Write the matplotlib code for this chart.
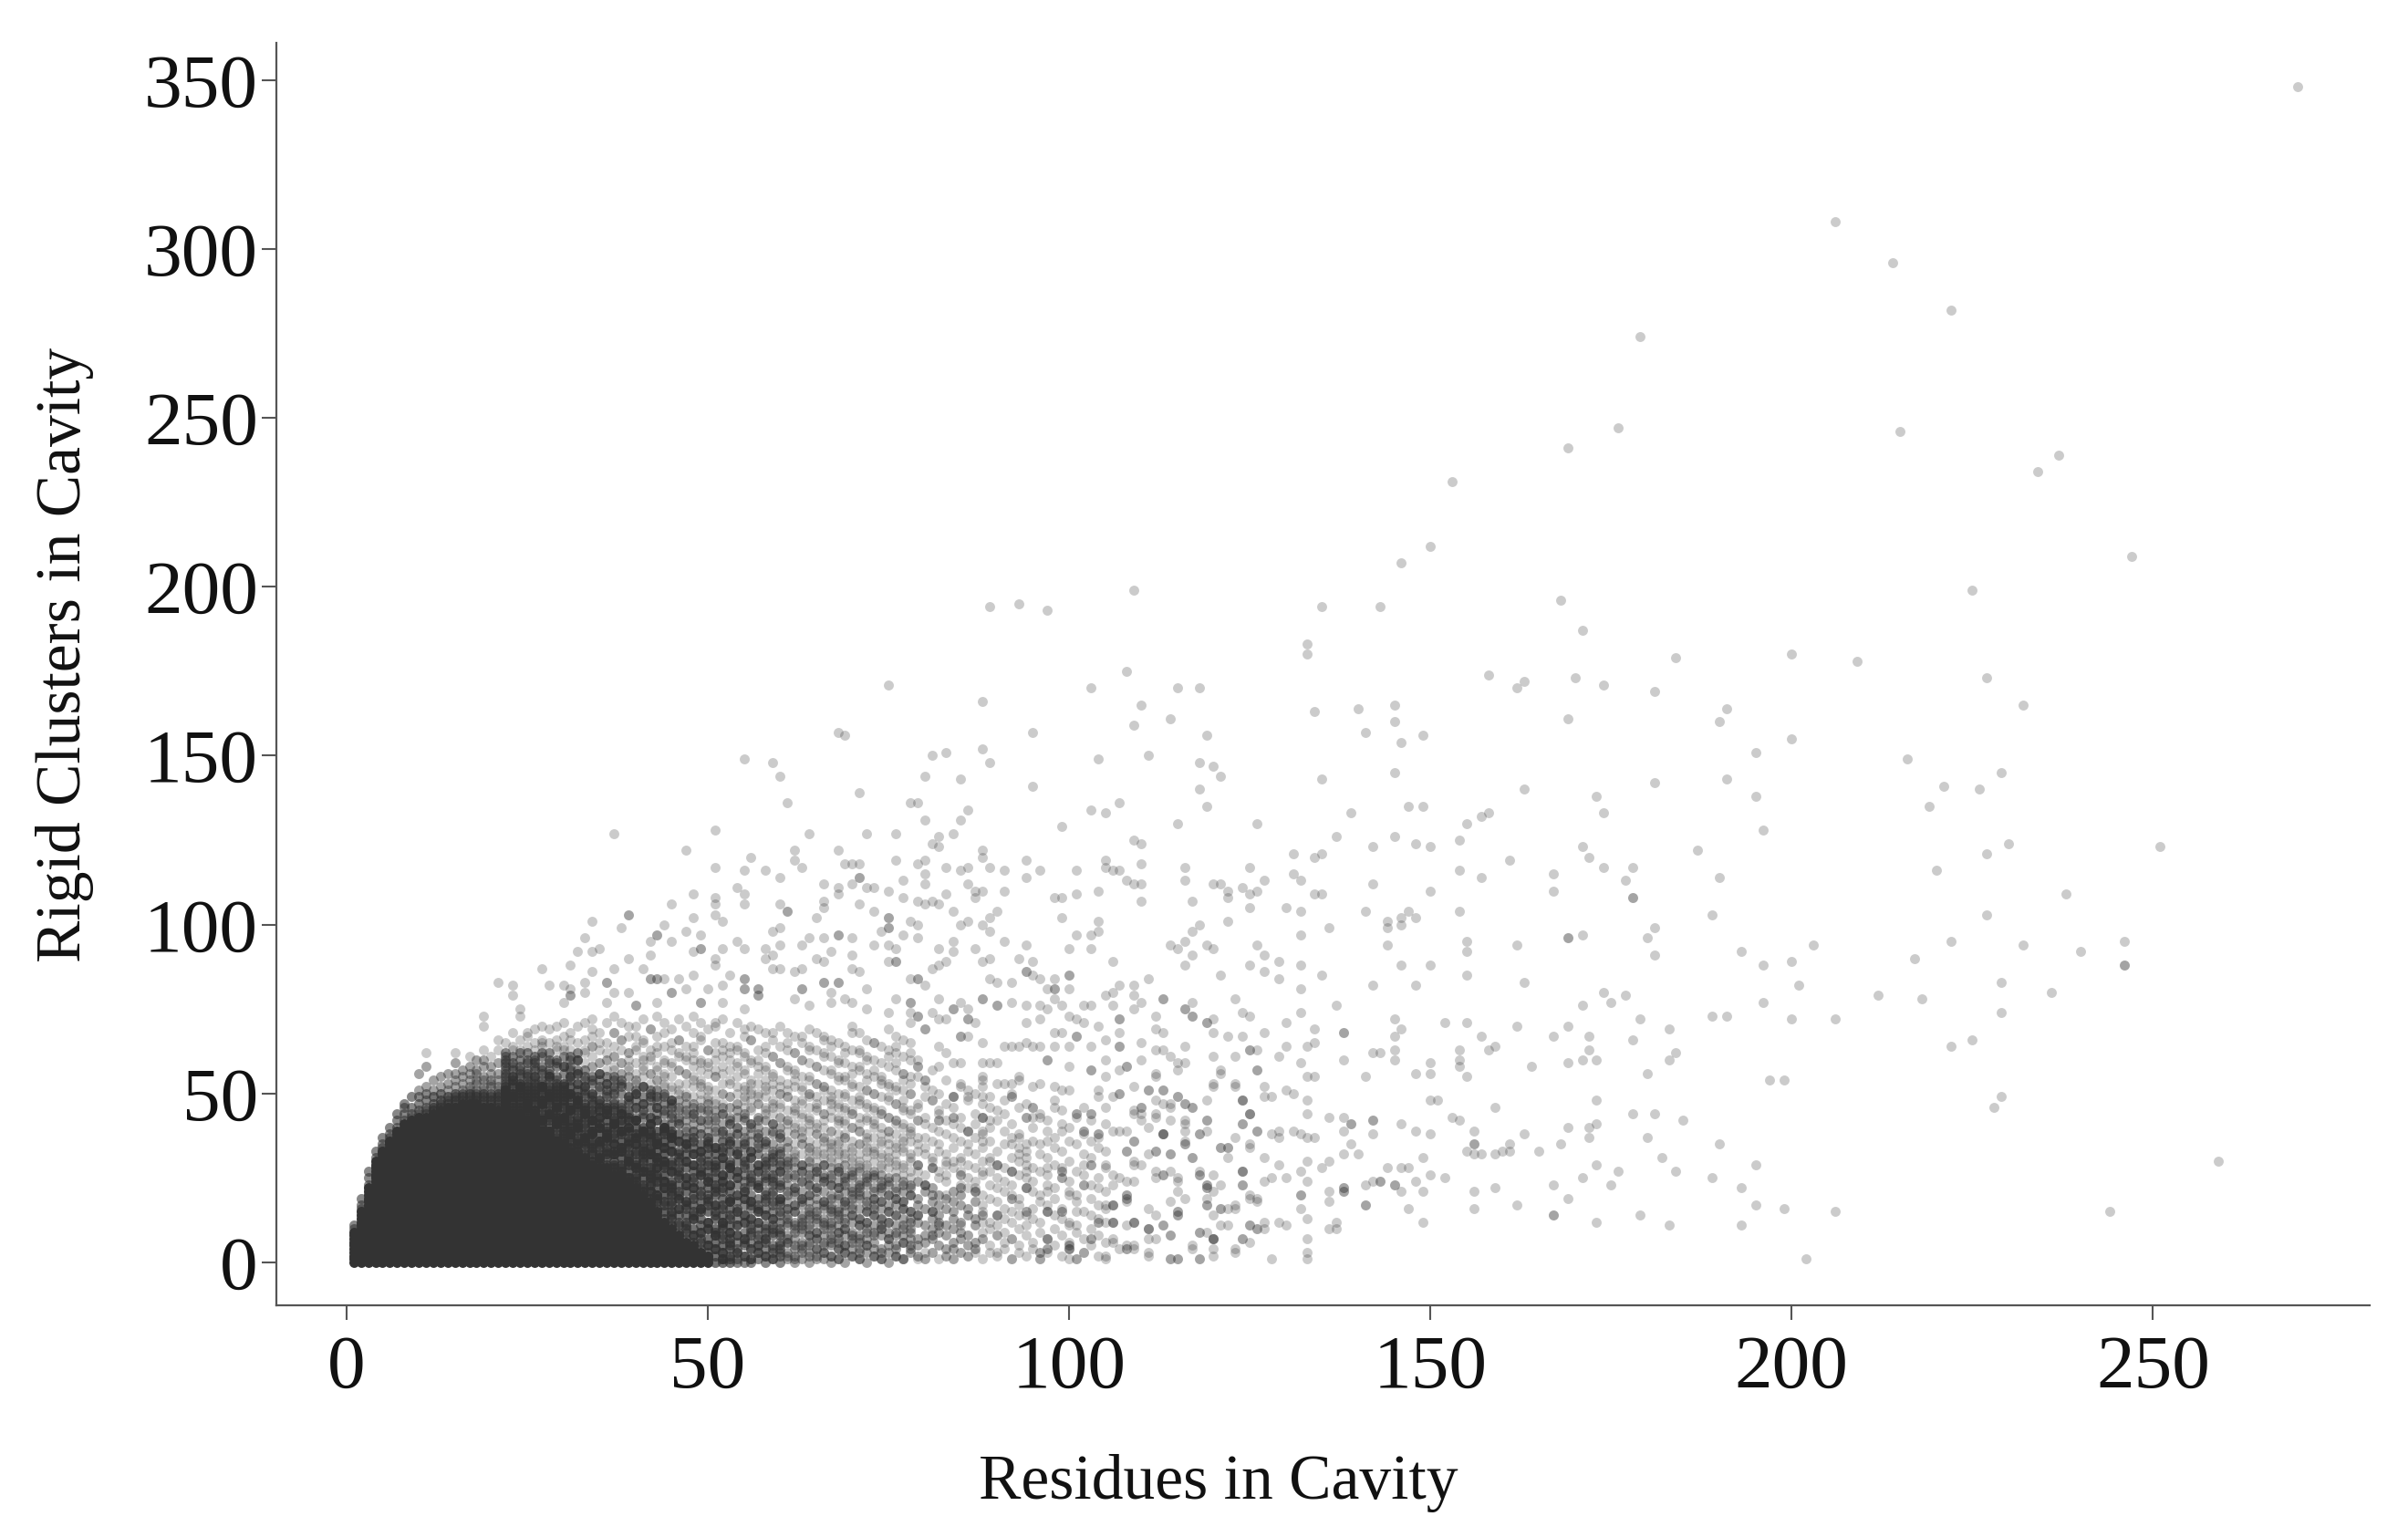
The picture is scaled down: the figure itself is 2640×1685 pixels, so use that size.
import numpy as np
import matplotlib
matplotlib.use("Agg")
import matplotlib.pyplot as plt

x_ticks = [0, 50, 100, 150, 200, 250]
y_ticks = [0, 50, 100, 150, 200, 250, 300, 350]
x_title = "Residues in Cavity"
y_title = "Rigid Clusters in Cavity"

# top of the fully saturated mass, for residues = 1, 2, 3 ...
solid_top = [9,15,22,30,33,36,39,41,42,43,43,44,45,46,46,47,47,47,46,46,45,44,43,42,40,39,38,36,35,33,
             32,31,30,29,28,27,26,25,24,22,20,18,15,12,10,8,6,5,3,2]

# values read column by column above the saturated mass (residues = 1, 2, 3 ...)
columns = [
[10,11],[16,17,19],[23,25,27],[31,33],[34,35,37],[37,38,40],[40,42,44],[42,44,46,47],[43,44,46,49],
[44,45,47,49,51,56],[44,45,46,48,50,52,58,62],[45,46,47,49,51,54],[46,47,48,50,52,55],[47,48,49,51,53,56],
[47,48,49,50,52,54,56,59,62],[48,49,50,51,53,55,57],[48,49,50,51,52,54,56,58,61],[48,49,50,51,53,54,56,57,60],
[47,48,49,50,51,52,54,55,58,60,63,70,73],[47,48,49,50,52,53,54,56,58,61],[46,47,48,49,50,51,52,54,56,59,63,66],
[45,46,47,48,49,50,51,52,53,54,56,57,58,60,62,65],[44,45,46,47,48,49,50,52,53,54,55,57,59,61,64,68],
[43,44,45,46,47,49,50,51,52,53,55,56,58,60,63,66,73,75],[41,42,43,44,45,46,47,48,50,51,52,54,55,57,59,62,64,68],
[40,41,42,43,44,45,47,48,49,50,52,53,55,57,58,60,63,65,69],[39,40,41,42,43,44,46,47,48,50,51,52,54,56,58,61,64,66,70],
[37,38,39,40,42,43,44,45,47,48,49,51,52,54,55,57,59,62,65,69],[36,37,38,40,41,42,43,45,46,47,49,50,52,53,55,58,60,63,66,70],
[34,35,36,38,39,40,41,43,44,46,47,48,50,51,53,56,58,61,64,67,71],[33,34,36,37,38,40,41,42,44,45,47,49,50,52,54,55,58,60,63,68],
[32,33,35,36,37,39,40,42,43,45,46,48,49,51,53,56,57,60,62,65,70],[31,32,34,35,37,38,40,41,43,44,46,47,49,50,52,54,57,59,62,66,71],
[30,32,33,35,36,38,39,41,42,44,45,47,48,50,53,55,58,61,64,67,72],[29,31,32,34,35,36,38,40,41,43,45,46,48,51,52,54,56,59,63,68],
[28,29,31,32,34,36,37,39,40,42,44,45,47,49,50,53,55,57,60,65,71],[27,28,30,32,33,35,37,38,40,41,43,45,46,48,51,52,55,58,61,64,68,73],
[26,28,29,31,33,34,36,38,39,41,42,44,46,47,50,53,54,56,59,63,66,71],[25,27,29,30,32,34,35,37,39,40,42,44,45,47,49,52,55,57,60,62,67],
[23,25,26,28,30,32,33,35,37,38,40,42,43,46,48,50,51,54,56,59,64,70],[21,23,25,27,28,30,32,33,35,37,39,40,43,45,47,49,52,55,58,61,66,72],
[19,21,23,25,27,28,30,32,34,36,37,39,41,43,46,48,50,53,56,60,63,69],[16,18,20,22,24,26,28,30,31,33,35,37,39,42,44,46,49,51,54,57,62,67,73],
[13,15,18,20,22,24,26,28,30,32,34,36,38,40,41,44,47,49,52,56,59,64,71],[11,13,15,18,20,22,24,27,29,30,33,35,37,39,41,44,46,48,51,55,58,63,69],
[9,11,14,16,19,21,23,25,27,30,32,33,36,38,41,43,45,48,50,53,57,61,66,72],[7,9,11,14,16,18,21,23,25,28,30,32,35,37,39,42,44,47,49,53,56,60,64,70],
[6,8,10,13,15,17,20,22,25,27,29,32,34,36,39,41,44,46,49,52,55,58,62,68,73],[4,6,9,11,13,16,18,21,23,26,28,30,33,35,38,40,42,45,48,50,54,57,60,66,71],
[3,5,7,10,12,15,17,20,22,24,27,29,32,34,37,39,42,44,47,49,52,56,59,63,69],
[0,2,4,6,8,10,13,15,17,20,22,25,27,30,32,34,37,39,42,45,48,51,55,60,65,70],[0,1,3,5,8,10,12,14,17,19,22,24,26,29,31,34,36,39,41,44,47,50,53,58,63,72],
[0,2,4,7,9,11,14,16,18,21,23,26,28,30,33,36,38,41,43,46,49,53,57,62,68],[0,1,3,6,8,11,13,15,18,20,23,25,27,30,32,35,38,40,43,47,50,55,59,64,71],
[0,2,5,7,9,12,14,17,19,21,24,26,29,31,34,37,39,42,46,49,52,56,61,67],[0,1,4,6,8,11,13,16,18,20,23,25,28,31,33,36,38,41,45,48,51,54,60,66,70],
[1,3,5,7,10,12,15,17,19,22,24,27,29,32,35,37,40,43,47,50,53,58,63,69],[0,2,4,7,9,11,14,16,18,21,24,26,29,31,34,36,39,42,46,49,52,57,62,68],
[1,3,5,8,10,13,15,18,20,23,25,28,30,33,35,38,41,44,47,51,56,61,66],[0,2,4,6,9,12,14,17,19,22,24,27,30,32,34,37,40,43,46,50,54,59,64,70],
[1,3,6,8,11,13,16,18,21,23,26,29,31,34,36,39,42,45,49,53,58,63,68],[0,2,5,7,10,12,15,17,20,22,25,28,30,33,35,38,41,44,48,52,57,62,67],
[1,4,6,9,11,14,17,19,21,24,27,29,32,35,37,40,43,47,51,55,60,65],[0,3,5,8,10,13,15,18,20,23,26,28,31,34,36,39,42,46,50,54,59,64,69],
[2,4,7,9,12,14,17,19,22,25,27,30,33,35,38,41,45,49,53,58,63,68],[1,3,6,8,11,13,16,18,21,24,26,29,32,34,37,40,44,48,52,57,62,67],
[0,2,5,7,10,12,15,17,20,23,25,28,31,33,36,39,43,47,51,56,61,66],[1,4,6,9,11,14,16,19,22,24,27,30,32,35,38,42,46,50,55,60,65],
[0,3,5,8,10,13,15,18,21,23,26,29,31,34,37,41,45,49,54,59,64],[2,4,7,9,12,14,17,20,22,25,28,30,33,36,40,44,48,53,58,63,70],
[1,3,6,8,11,13,16,19,21,24,27,29,32,35,39,43,47,52,57,62,68],[0,5,7,10,12,15,18,20,23,26,28,31,34,38,42,46,51,56,61,66],
[2,4,9,11,14,17,19,22,25,27,30,33,37,41,45,50,55,60,65],[1,3,8,10,13,16,18,21,24,26,29,32,36,40,44,49,54,59,64],
[0,5,7,12,15,17,20,23,28,31,35,39,43,48,53,58,63,69],[2,4,9,11,14,19,22,25,30,34,38,42,47,52,57,62,67],
[1,6,8,13,16,18,21,24,29,33,37,41,46,51,56,61,66],[3,5,10,12,15,20,23,27,32,36,40,45,50,55,60,65,71],
]
# further column readings, residues = 22, 23, 24 ... 105
extra_first = 22
extra_columns = [
[46,47,50,51,55,59,61],[44,49,50,54,55,58,63],[43,44,48,52,53,57,62],[42,46,47,49,53,56,60,67],[41,44,45,51,54,55,59,61],
[39,42,47,48,52,53,57,62,65],[38,39,44,49,50,55,56,60],[36,41,43,46,48,51,54,59,64],[35,37,42,43,49,52,53,58,63],[34,38,39,45,46,50,55,57,61,66],
[33,35,40,41,47,48,53,56,60],[31,36,37,44,45,51,52,55,63],[30,34,38,39,42,49,50,54,58,64,69],[30,31,36,40,43,47,48,56,59,65],[28,33,37,38,44,46,51,53,60,62],
[29,32,35,41,42,47,50,54,57,61,68],[26,27,33,34,39,44,45,52,56,59,66],[25,30,31,36,40,43,48,49,55,58,62,70],[24,28,29,35,37,42,46,50,53,54,63,67],[22,27,31,34,38,39,44,47,52,57,60,65],
[21,24,26,32,33,38,41,43,49,51,56,61,69],[19,20,25,28,31,35,36,42,46,48,54,58,64],[17,22,24,29,30,34,39,40,45,50,53,55,60,68],[14,17,21,23,27,33,37,38,43,47,48,52,59,65],[12,16,19,20,26,28,31,36,41,42,46,51,57,62,66],
[10,12,17,18,23,25,30,34,35,40,45,49,50,56,61],[8,13,14,19,22,24,29,32,37,39,43,44,47,54,60,64],[7,9,15,16,20,26,27,31,33,38,42,46,52,53,59,67],[5,10,12,18,19,24,25,30,35,36,41,45,48,51,58,63],[4,8,9,14,17,21,23,28,29,34,40,43,47,55,57,62,71],
[1,3,7,11,12,16,21,24,26,31,33,38,39,44,46,50,56,61,65],[1,5,6,9,13,18,19,23,28,29,35,37,41,42,49,54,60,64],[3,4,8,11,15,16,20,25,27,32,33,38,40,45,47,52,58,63],[2,6,7,12,14,19,21,22,28,30,35,36,43,44,48,51,57,62,69],[1,4,9,10,13,17,18,24,26,31,33,40,41,46,50,53,59,66],
[3,5,8,12,15,16,22,23,27,29,34,37,38,42,47,49,56,60],[2,6,7,10,14,19,20,25,28,30,35,36,44,45,51,54,58,64],[1,4,9,11,13,17,21,24,26,31,32,39,41,46,48,53,55,61,68],[3,5,8,10,15,18,19,23,27,29,33,37,38,43,47,50,52,59],[2,6,7,12,14,16,20,25,28,30,34,36,41,42,49,51,57,65],
[1,4,9,11,15,17,21,22,26,31,32,38,40,45,46,54,56,62],[3,5,10,12,13,18,19,24,27,29,35,37,39,44,48,52,60,67],[2,6,8,11,14,16,20,23,25,30,33,34,41,43,49,50,55,63],[1,4,7,9,13,15,21,22,27,28,32,38,40,46,47,53,58],[3,5,10,12,17,18,24,25,29,31,36,37,42,44,51,52,61,66],
[2,6,8,11,14,16,19,23,26,30,34,35,39,45,48,49,57,64],[1,4,7,9,13,15,20,22,27,28,33,36,41,43,47,54,59],[3,5,10,12,17,18,24,25,29,32,37,38,42,46,50,55,62],[2,6,8,14,16,19,21,26,27,31,34,40,44,45,52,56,68],[1,4,7,11,13,20,22,23,28,30,35,39,41,48,49,58,63],
[3,5,9,12,15,17,24,25,29,33,36,37,43,47,51,54,60],[2,6,8,14,16,19,21,26,27,32,34,40,42,46,50,57,65],[1,4,10,11,13,18,22,23,28,31,35,38,44,45,53,55],[3,7,9,12,15,20,24,25,30,33,37,39,43,49,52,61],[2,5,8,14,17,19,21,27,29,32,35,41,42,47,51,59,64],
[1,6,10,11,16,18,23,26,28,34,36,40,45,48,54,56],[4,7,9,13,15,20,22,25,30,31,38,39,44,50,53,62],[2,5,12,14,17,19,24,27,29,33,35,42,46,47,55,60],[1,6,8,11,16,21,23,26,32,34,37,41,43,49,52],[3,7,10,13,15,18,22,28,30,31,36,40,48,51,57],
[5,9,12,14,17,20,25,27,33,35,39,44,45,50,58],[2,4,8,11,16,19,24,26,29,32,38,42,47,54],[1,6,10,13,15,18,21,28,30,34,37,41,46,49],[3,7,9,12,17,20,23,27,31,36,40,43,52,59],[2,5,8,14,16,22,25,29,33,35,39,48,51],
[4,6,11,13,18,21,24,28,32,37,41,44,50],[1,7,9,15,17,20,26,30,34,38,43,47,55],[3,5,10,12,19,23,27,31,36,40,46,49],[2,8,11,14,18,22,25,29,33,42,45,53],[4,6,9,13,16,21,24,28,35,39,44,48],
[1,7,12,15,20,23,27,31,37,41,50],[3,5,10,17,19,26,30,34,38,46],[2,8,11,14,22,25,29,33,43,47],[4,6,13,16,21,24,28,36,40,52],[1,9,12,18,20,27,32,35,44],
[3,7,15,17,23,26,31,39,42],[5,10,14,19,22,29,34,37,48],[2,8,13,16,25,28,33,41,45],[4,6,12,21,24,30,36,40],[1,9,11,18,20,27,35,43],
[3,7,15,23,26,32,38,46],[5,10,14,19,29,31,42],[2,8,17,22,25,34,37],[6,12,16,21,28,33,41],
]
# shading: stack height of the column values and the level up to which it applies
stack_by_residue = [3]*11 + [4]*10 + [5]*24 + [4]*8 + [3]*7 + [2]*27 + [1]*18
shade_level = [50]*21 + [52]*11 + [48,47,46,46,45,44,43,42,42,41,41,40,40,39,38,38,37,37,36,36,
               36,35,35,34,34,33,32,32,31,30,30,30,29,29,28,28,28,27,27,26,26,26,25,25,25,24,24,24,
               24,23,23,22,22,21,21,20,20,19,19,18,18,17,17,16,16,15,15,15,14,14,14,14,14]

# resolved single points
points = [(270,348),(206,308),(214,296),(222,282),(179,274),(176,247),(169,241),(215,246),(234,234),(237,239),(247,209),(225,199),(168,196),(171,187),(184,179),(200,180),(209,178),(170,173),(174,171),(181,169),(227,173),(232,165),(169,161),(191,164),(190,160),(195,151),(200,155),(216,149),(229,145),(221,141),(226,140),(219,135),(173,138),(174,133),(181,142),(191,143),(195,138),(196,128),(251,123),(227,121),(230,124),(220,116),(171,123),(172,120),(174,117),(178,117),(177,113),(187,122),(190,114),(167,115),(167,110),(189,103),(227,103),(238,109),(171,97),(180,96),(181,99),(181,91),(193,92),(196,88),(200,89),(203,94),(201,82),(217,90),(222,95),(232,94),(240,92),(246,95),(229,83),(236,80),(212,79),(218,78),(229,74),(196,77),(200,72),(206,72),(189,73),(191,73),(174,80),(175,77),(177,79),(171,76),(179,72),(169,70),(172,67),(172,63),(167,67),(183,69),(178,66),(183,60),(184,62),(180,56),(169,59),(171,60),(173,60),(222,64),(225,66),(229,49),(228,46),(197,54),(199,54),(173,48),(178,44),(181,44),(185,42),(169,40),(172,40),(173,41),(172,37),(180,37),(168,35),(190,35),(182,31),(173,29),(195,29),(176,27),(184,27),(171,25),(189,25),(167,23),(175,23),(193,22),(169,19),(195,17),(199,16),(206,15),(167,14),(179,14),(173,12),(183,11),(193,11),(202,1),(259,30),(244,15),
(89,194),(93,195),(97,193),(109,199),(135,194),(133,183),(133,180),(143,194),(146,207),(150,212),(108,175),(88,166),(103,170),(115,170),(118,170),(110,165),(109,159),(114,161),(95,157),(119,156),(134,163),(140,164),(145,165),(145,160),(141,157),(146,154),(149,156),(158,174),(162,170),(163,172),(153,231),(75,171),(68,157),(69,156),(55,149),(59,148),(60,144),(61,136),(71,139),(78,136),(81,150),
(83,151),(88,152),(89,148),(104,149),(111,150),(118,148),(120,147),(121,144),(80,144),(85,143),(95,141),(118,140),(119,135),(135,143),(145,145),(163,140),(79,136),(80,131),(85,131),(86,134),(84,127),(82,126),(81,124),(82,123),(99,129),(103,134),(105,133),(107,136),(115,130),(126,130),(139,133),(147,135),(149,135),(155,130),(157,132),(158,133),(137,126),(154,125),(145,126),(142,123),(148,124),(150,123),(109,125),(110,124),(131,121),(135,121),(134,120),
(88,122),(88,120),(79,118),(80,119),(83,117),(85,116),(86,117),(89,117),(91,116),(94,119),(96,116),(101,116),(105,119),(105,117),(106,116),(107,116),(110,118),(116,117),(125,117),(161,119),(154,116),(157,114),(80,115),(80,112),(86,112),(94,114),(108,113),(109,112),(110,112),(116,113),(120,112),(121,112),(127,113),(124,111),(131,115),(132,113),(142,112),(150,110),(87,110),(88,110),(91,110),(98,108),(99,108),(101,109),(104,110),(110,107),(117,107),(122,110),(122,108),(125,109),(126,110),(134,109),(135,109),
(79,107),(80,106),(81,107),(82,106),(83,109),(87,108),(84,104),(90,104),(89,102),(99,102),(85,100),(86,101),(88,100),(79,100),(104,101),(104,98),(103,97),(101,97),(118,100),(117,98),(122,101),(125,105),(130,105),(132,104),(141,104),(147,104),(146,102),(148,102),(144,101),(154,104),(144,99),(146,100),(132,97),(136,99),(79,96),(89,98),(91,95),(94,94),(84,95),(82,93),(87,93),(84,92),(100,93),(103,93),(114,94),(115,93),(116,95),(119,94),(120,93),(126,94),(144,94),(155,95),(155,92),(162,94),(117,91),(127,91),
(88,89),(89,90),(83,89),(82,88),(81,87),(93,90),(95,89),(106,89),(116,88),(125,88),(127,86),(129,89),(132,88),(146,88),(150,88),(95,85),(96,84),(98,84),(89,84),(90,83),(80,82),(92,83),(97,81),(100,81),(111,84),(121,85),(129,84),(135,85),(155,85),(163,83),(148,82),(142,82),(132,81),(107,82),(109,82),(106,80),(105,79),(109,79),(110,77),(109,75),
(82,78),(85,77),(92,77),(98,78),(123,78),(99,76),(94,76),(96,76),(97,75),(102,76),(103,76),(106,76),(117,77),(124,74),(125,73),(132,74),(137,76),(145,72),(152,71),(155,71),(162,70),(86,75),(81,74),(82,72),(83,72),(87,71),(94,71),(96,72),(100,73),(101,72),(102,71),(104,70),(112,73),(112,69),(113,68),(120,72),(130,71),(120,68),(134,69),(146,69),(145,67),(127,68),(98,68),(99,68),(86,67),(105,66),(107,68),(122,67),(124,67),
(88,65),(82,64),(83,62),(91,64),(92,64),(93,64),(94,65),(95,64),(96,64),(98,64),(100,64),(103,64),(110,65),(112,63),(113,63),(116,64),(114,61),(115,59),(116,59),(115,57),(120,61),(123,61),(126,63),(130,64),(129,61),(133,64),(134,65),(142,62),(143,62),(145,63),(154,63),(154,60),(157,67),(158,63),(159,64),(138,60),(145,60),(84,59),(88,59),(89,59),(90,59),(100,58),(105,60),(108,58),(110,60),(107,57),(105,55),(112,55),(121,56),(132,59),(133,55),(134,55),(141,55),(148,56),(150,59),(150,56),(154,58),(155,55),(164,58),
(85,53),(88,54),(88,52),(91,53),(92,53),(93,55),(93,54),(96,53),(98,52),(99,51),(100,51),(104,51),(113,51),(120,52),(123,52),(127,52),(130,51),(131,50),(81,48),(86,49),(88,49),(106,49),(107,50),(105,46),(104,49),(110,46),(112,48),(113,47),(114,47),(115,49),(119,48),(127,49),(128,49),(133,48),(150,48),(151,48),(159,46),
(79,42),(89,42),(94,43),(95,43),(96,43),(98,46),(109,44),(110,44),(112,43),(116,41),(119,42),(124,41),(136,43),(138,43),(133,44),(146,41),(153,43),(154,42),(88,39),(99,39),(106,39),(107,39),(108,39),(116,39),(118,38),(126,39),(129,39),(128,38),(129,37),(131,39),(132,38),(133,37),(134,37),(138,39),(142,38),(148,39),(150,38),(156,39),(163,38),(139,35),
(79,37),(93,37),(92,35),(94,35),(97,36),(88,36),(103,36),(108,33),(109,36),(121,34),(122,34),(125,34),(155,33),(165,33),(161,35),(156,32),(157,32),(159,32),(160,33),(161,33),(138,32),(140,32),(149,31),(127,31),(122,31),(114,32),(112,33),(83,30),(85,30),(89,30),(93,32),(94,31),(97,28),(102,29),(103,29),(105,29),(109,29),(110,29),(129,29),(133,30),(135,28),(136,30),(144,28),(146,28),(147,28),
(88,27),(94,27),(99,25),(106,26),(107,25),(108,24),(109,24),(112,25),(115,24),(132,27),(128,25),(127,24),(130,25),(150,26),(152,25),(142,24),(87,22),(97,21),(100,20),(102,23),(103,23),(106,23),(124,23),(133,24),(148,24),(141,23),(159,22),(83,20),(87,21),(101,15),(105,17),(106,17),(115,21),(120,21),(125,20),(126,19),(136,21),(146,21),(149,21),(156,21),
(93,14),(111,16),(112,14),(119,17),(121,16),(122,16),(123,17),(132,16),(136,18),(147,16),(149,12),(156,16),(162,17),(167,14),(85,11),(88,12),(100,11),(113,11),(121,11),(125,11),(126,10),(127,10),(127,12),(129,12),(130,11),(133,13),(137,12),(136,10),(137,10),(88,7),(90,8),(92,7),(103,7),(106,7),(111,7),(114,8),(118,9),(119,9),(124,7),(133,7),(80,3),(87,3),(90,3),(102,3),(107,4),(109,4),(111,2),(117,4),(120,2),(123,3),(133,3),(79,1),(82,1),(92,1),(96,1),(100,1),(101,1),(105,1),(114,1),(115,1),(118,1),(128,1),(133,1),
(37,127),(51,128),(47,122),(51,117),(56,120),(55,116),(58,116),(60,114),(62,122),(62,119),(63,117),(64,127),(68,122),(69,118),(70,118),(71,118),(72,127),(76,127),(76,119),(66,112),(68,111),(70,112),(72,111),(73,111),(75,110),(77,113),(77,108),(68,109),(54,111),(55,109),(48,109),(45,106),(51,108),(51,106),(55,106),(60,106),(66,107),(71,106),(73,104),(66,105),(51,103),(52,101),(48,102),(65,102),(78,101),(34,101),(38,99),(44,100),(60,99),(59,98),(47,98),(49,97),(66,96),(64,96),(70,96),(74,98),(77,97),(33,96),(42,95),(45,95),(63,94),(54,95),(55,93),(48,92),(35,93),(34,92),(32,92),(52,93),(58,93),(60,94),(73,94),(75,94),(76,93),(39,90),(42,91),(67,92),(70,91),(58,90),(51,90),(59,91),(65,90),(66,89),(75,89),(31,88),(27,87),(37,87),(41,87),(34,86),(51,88),(60,87),(59,87),(70,87),(71,86),(63,87),(62,86),
(21,83),(23,82),(23,79),(28,82),(30,82),(31,81),(30,77),(33,83),(33,80),(37,80),(39,80),(44,84),(46,84),(47,81),(48,85),(50,81),(52,82),(53,85),(67,80),(72,81),(78,84),(36,77),(43,77),(52,77),(55,75),(62,78),(64,76),(67,77),(69,78),(70,77),(76,78),(72,75),(75,74),(78,74),
(107,50),(108,58),(109,52),(110,46),(109,45),(113,51),(112,56),(115,49),(114,46),(112,44),(110,42),(114,42),(116,42),(111,40),(118,38),(119,42),(119,39),(116,36),(114,32),(112,33),(111,32),(109,36),(108,33),(109,30),(112,27),(114,27),(115,25),(118,27),(121,23),(124,27),(121,34),(122,34),(124,48),(125,44),(124,41),(123,37),(125,35),(126,39),(120,26),(108,18),(106,12),(104,13),(109,12),(108,11),(111,10),(113,11),(114,18),(116,19),(119,19),(119,17),(120,14),(121,16),(123,16),(122,11),(118,9),(114,8),(112,7),(117,5),(111,3),(109,5),(108,5),(106,6),(103,7),(105,2),(114,1),(115,1),(118,1),(120,4),(123,4),(124,7),(125,6),(126,10),(125,11),(125,19),(124,23),(126,18),(123,53),(120,53),(121,57),
]
# points that show as darker, i.e. several coinciding records
dark_points = [(178,108),(169,96),(246,88),(94,86),(100,85),(79,84),(98,81),(88,78),(90,76),(113,78),(116,75),(117,73),(84,75),(79,73),(86,72),(107,72),(119,71),(138,68),(80,69),(85,67),(101,67),(97,60),(107,64),(125,63),(79,58),(103,57),(126,57),(80,54),(111,51),(84,49),(92,49),(116,47),(117,46),(124,48),(82,42),(84,43),(88,43),(95,46),(101,44),(103,44),(125,44),(139,41),(142,42),(86,39),(102,39),(104,38),(113,38),(116,35),(156,35),(117,31),(79,29),(81,28),(90,29),(99,27),(85,26),(92,27),(113,26),(118,26),(124,27),(143,24),(80,23),(85,22),(92,19),(94,22),(108,20),(119,22),(138,22),(145,23),(81,20),(97,15),(99,15),(132,20),(138,21),(79,14),(81,15),(88,14),(90,14),(94,15),(115,14),(141,17),(82,11),(104,12),(106,12),(109,12),(111,10),(79,7),(81,8),(97,7),(120,7),(84,4),(96,3),(97,4),(100,4),(108,4),(71,114),(61,104),(75,102),(75,99),(39,103),(68,97),(43,97),(49,93),(76,89),(31,79),(36,83),(43,84),(42,84),(45,80),(55,84),(55,81),(57,81),(57,79),(63,81),(66,83),(68,83),(40,76),(49,77),(78,77),(108,19),(106,17),(115,15),(113,38),(119,23),(120,7),(100,5)]

W, H = 2640, 1685
FONT = "Liberation Serif"
INK = "#333333"
fig = plt.figure(figsize=(W/100, H/100), dpi=100, facecolor="white")
ax = fig.add_axes([303/W, 1-1431/H, (2598-303)/W, (1431-47)/H])
ax.set_xlim(-9.7, 280)
ax.set_ylim(-12.7, 361)

MS = 62
sx, sy = [], []
for i, top in enumerate(solid_top):
    ys = np.arange(0, top + 1)
    sx.append(np.full(ys.size, i + 1)); sy.append(ys)
ax.scatter(np.concatenate(sx), np.concatenate(sy), s=MS, color=INK, linewidths=0, alpha=1, zorder=2)

def stacked(ys, residue):
    ys = np.asarray(ys)
    st = stack_by_residue[residue - 1]
    lim = shade_level[residue - 1]
    return np.repeat(ys, np.where(ys <= lim, st, np.where(ys <= lim + 10, (st + 1) // 2, 1)))

cx, cy = [], []
for i, ys in enumerate(columns):
    ys = stacked(ys, i + 1)
    cx.append(np.full(ys.size, i + 1)); cy.append(ys)
for i, ys in enumerate(extra_columns):
    ys = stacked(ys, i + extra_first)
    cx.append(np.full(ys.size, i + extra_first)); cy.append(ys)
ax.scatter(np.concatenate(cx), np.concatenate(cy), s=MS, color=INK, linewidths=0, alpha=0.25, zorder=3)
px, py = zip(*points)
ax.scatter(px, py, s=MS, color=INK, linewidths=0, alpha=0.25, zorder=3)
dx, dy = zip(*dark_points)
ax.scatter(np.repeat(dx, 2), np.repeat(dy, 2), s=MS, color=INK, linewidths=0, alpha=0.25, zorder=3)

for s in ("top", "right"):
    ax.spines[s].set_visible(False)
for s in ("left", "bottom"):
    ax.spines[s].set_color("#555555"); ax.spines[s].set_linewidth(1.6)
ax.set_xticks(x_ticks); ax.set_yticks(y_ticks)
ax.tick_params(axis="x", length=11.5, width=1.5, color="#555555", pad=12, labelsize=60, labelcolor="#111111")
ax.tick_params(axis="y", length=11.5, width=1.5, color="#555555", pad=3, labelsize=60, labelcolor="#111111")
for lb in ax.get_xticklabels() + ax.get_yticklabels():
    lb.set_fontfamily(FONT)
ax.set_xlabel(x_title, fontfamily=FONT, fontsize=50, color="#111111", va="center")
ax.set_ylabel(y_title, fontfamily=FONT, fontsize=50, color="#111111", va="center")
ax.xaxis.set_label_coords(1336/W, 1-1626/H, transform=fig.transFigure)
ax.yaxis.set_label_coords(71/W, 1-718/H, transform=fig.transFigure)
fig.savefig("out.png", dpi=100, facecolor="white")
